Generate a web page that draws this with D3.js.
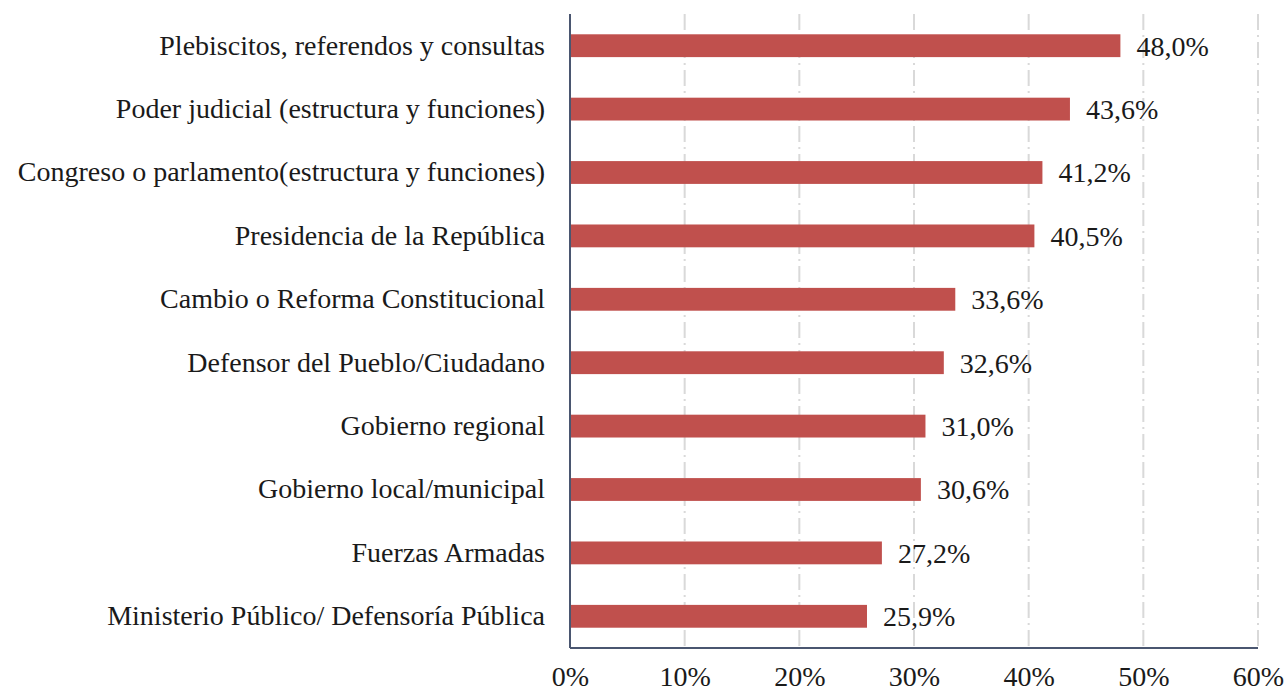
<!DOCTYPE html>
<html>
<head>
<meta charset="utf-8">
<script src="https://cdn.jsdelivr.net/npm/d3@7"></script>
<style>
  body { margin: 0; background: #fff; }
  text { font-family: "Liberation Serif", "DejaVu Serif", serif; fill: #1a1a1a; }
</style>
</head>
<body>
<div id="chart"></div>
<script>
// datos del gráfico
const categories = [
  'Plebiscitos, referendos y consultas',
  'Poder judicial (estructura y funciones)',
  'Congreso o parlamento(estructura y funciones)',
  'Presidencia de la República',
  'Cambio o Reforma Constitucional',
  'Defensor del Pueblo/Ciudadano',
  'Gobierno regional',
  'Gobierno local/municipal',
  'Fuerzas Armadas',
  'Ministerio Público/ Defensoría Pública'
];
const values = [48.0, 43.6, 41.2, 40.5, 33.6, 32.6, 31.0, 30.6, 27.2, 25.9];
const ticks = [0, 10, 20, 30, 40, 50, 60];

const width = 1288, height = 692;
const margin = { top: 14, right: 30, bottom: 44, left: 570 };
const fontSize = '28px';

const svg = d3.select('#chart').append('svg')
  .attr('width', width)
  .attr('height', height);

const x = d3.scaleLinear().domain([0, 60]).range([margin.left, 1258]);
const y = d3.scaleBand().domain(categories)
  .range([margin.top, height - margin.bottom])
  .paddingInner(0.64).paddingOuter(0.32);

const fmt = v => v.toFixed(1).replace('.', ',') + '%';

// líneas de cuadrícula
svg.append('g').selectAll('line')
  .data(ticks.slice(1))
  .join('line')
  .attr('x1', d => x(d)).attr('x2', d => x(d))
  .attr('y1', margin.top).attr('y2', height - margin.bottom)
  .attr('stroke', '#d9d9d9')
  .attr('stroke-width', 2)
  .attr('stroke-dasharray', '16 5 2 5');

// barras
svg.append('g').selectAll('rect')
  .data(values)
  .join('rect')
  .attr('x', x(0))
  .attr('y', (d, i) => y(categories[i]))
  .attr('width', d => x(d) - x(0))
  .attr('height', y.bandwidth())
  .attr('fill', '#c0504d');

// etiquetas de valor
svg.append('g').selectAll('text')
  .data(values)
  .join('text')
  .attr('x', d => x(d) + 16)
  .attr('y', (d, i) => y(categories[i]) + y.bandwidth() / 2)
  .attr('dy', '0.35em')
  .style('font-size', fontSize)
  .text(fmt);

// ejes
const yAxis = svg.append('g')
  .attr('transform', `translate(${x(0)},0)`)
  .call(d3.axisLeft(y).tickSize(0).tickPadding(25));
yAxis.select('.domain').remove();
yAxis.selectAll('text').style('font-size', fontSize);

const xAxis = svg.append('g')
  .attr('transform', `translate(0,${height - margin.bottom})`)
  .call(d3.axisBottom(x).tickValues(ticks).tickSize(0).tickPadding(18).tickFormat(d => d + '%'));
xAxis.select('.domain').remove();
xAxis.selectAll('text').style('font-size', fontSize);

svg.append('line')
  .attr('x1', x(0)).attr('x2', x(0))
  .attr('y1', margin.top).attr('y2', height - margin.bottom)
  .attr('stroke', '#4a5670').attr('stroke-width', 2);
svg.append('line')
  .attr('x1', x(0)).attr('x2', x(60))
  .attr('y1', height - margin.bottom).attr('y2', height - margin.bottom)
  .attr('stroke', '#4a5670').attr('stroke-width', 2);
</script>
</body>
</html>
